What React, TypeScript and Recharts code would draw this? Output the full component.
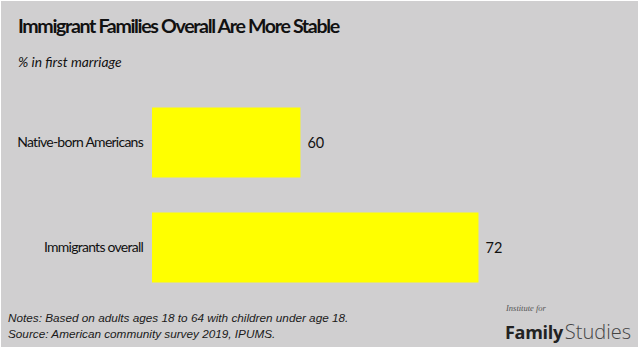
import React from 'react'
import { BarChart, Bar, XAxis, YAxis, LabelList } from 'recharts'

const CATEGORIES = ['Native-born Americans', 'Immigrants overall']
const FIRST_MARRIAGE = [60, 72]
const X_DOMAIN: [number, number] = [50, 75]

const TITLE = 'Immigrant Families Overall Are More Stable'
const SUBTITLE = '% in first marriage'
const NOTES = [
  'Notes: Based on adults ages 18 to 64 with children under age 18.',
  'Source: American community survey 2019, IPUMS.',
]

const BG = '#d0cfd0'
const BAR = '#ffff00'
const INK = '#111111'
const SANS = 'Lato, "Open Sans", sans-serif'

const data = CATEGORIES.map((name, i) => ({ name, value: FIRST_MARRIAGE[i] }))

export default function App() {
  return (
    <div style={{ position: 'absolute', left: 0, top: 0, width: 640, height: 350, background: '#ffffff', overflow: 'hidden' }}>
      <div style={{ position: 'absolute', left: 1, top: 1, width: 637, height: 346, background: BG }} />

      {/* Title + subtitle */}
      <div style={{ position: 'absolute', left: 18, top: 14, fontFamily: SANS, fontWeight: 700, fontSize: 19.6, lineHeight: '24px', color: INK, letterSpacing: -1.35, whiteSpace: 'nowrap' }}>
        {TITLE}
      </div>
      <div style={{ position: 'absolute', left: 18, top: 54, fontFamily: SANS, fontStyle: 'italic', fontSize: 13.8, lineHeight: '16px', color: INK, whiteSpace: 'nowrap' }}>
        {SUBTITLE}
      </div>

      {/* Chart */}
      <div style={{ position: 'absolute', left: 0, top: 0 }}>
        <BarChart
          layout="vertical"
          width={640}
          height={350}
          data={data}
          margin={{ top: 89.5, right: 117, bottom: 50.5, left: 0 }}
        >
          <XAxis type="number" domain={X_DOMAIN} hide allowDataOverflow />
          <YAxis
            type="category"
            dataKey="name"
            width={152}
            tickLine={false}
            axisLine={false}
            tickSize={0}
            tickMargin={9}
            tick={{ fill: INK, fontSize: 14, fontFamily: SANS, letterSpacing: -0.75 }}
          />
          <Bar dataKey="value" fill={BAR} barSize={70} isAnimationActive={false}>
            <LabelList dataKey="value" position="right" offset={7} fill={INK} fontSize={14.5} fontFamily={SANS} />
          </Bar>
        </BarChart>
      </div>

      {/* Notes */}
      <div style={{ position: 'absolute', left: 8, top: 310, fontFamily: '"Liberation Sans", Arial, sans-serif', fontStyle: 'italic', fontSize: 11.75, lineHeight: '15.5px', color: '#1a1a1a', whiteSpace: 'nowrap' }}>
        {NOTES.map(line => <div key={line}>{line}</div>)}
      </div>

      {/* Logo */}
      <div style={{ position: 'absolute', left: 506, top: 303, fontFamily: '"Liberation Serif", serif', fontStyle: 'italic', fontSize: 8.5, color: '#555', whiteSpace: 'nowrap' }}>
        Institute for
      </div>
      <div style={{ position: 'absolute', left: 505, top: 319, fontFamily: '"Open Sans", sans-serif', lineHeight: '26px', whiteSpace: 'nowrap' }}>
        <span style={{ fontWeight: 700, color: '#222', fontSize: 18, letterSpacing: -0.3 }}>Family</span>
        <span style={{ fontWeight: 300, color: '#444', fontSize: 20, marginLeft: 2 }}>Studies</span>
      </div>
    </div>
  )
}
